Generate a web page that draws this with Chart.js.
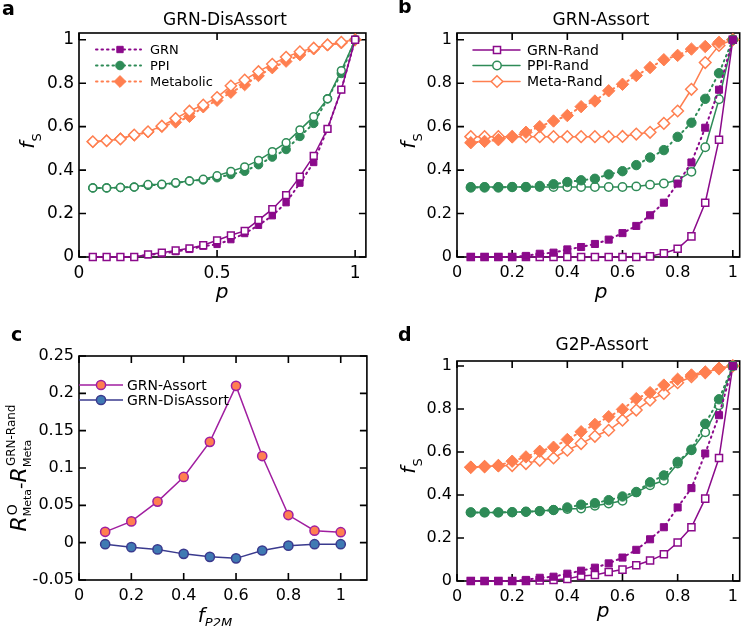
<!DOCTYPE html>
<html><head><meta charset="utf-8">
<script src="https://cdn.jsdelivr.net/npm/chart.js@4/dist/chart.umd.min.js"></script>
<style>
html,body{margin:0;padding:0;background:#fff;}
#wrap{position:relative;width:747px;height:626px;overflow:hidden;background:#fff;}
canvas{position:absolute;}
</style></head><body>
<div id="wrap">
<canvas id="ca" width="373" height="313" style="left:0;top:0"></canvas>
<canvas id="cb" width="374" height="313" style="left:373px;top:0"></canvas>
<canvas id="cc" width="373" height="313" style="left:0;top:313px"></canvas>
<canvas id="cd" width="374" height="313" style="left:373px;top:313px"></canvas>
</div>
<script>
// ---------- data ----------
const pVals = [0.05,0.1,0.15,0.2,0.25,0.3,0.35,0.4,0.45,0.5,0.55,0.6,0.65,0.7,0.75,0.8,0.85,0.9,0.95,1.0];
const fP2M  = [0.1,0.2,0.3,0.4,0.5,0.6,0.7,0.8,0.9,1.0];

const xTicksA = [0,0.5,1];
const xTicksP = [0,0.2,0.4,0.6,0.8,1];
const yTicksFS = [0,0.2,0.4,0.6,0.8,1];
const yTicksC = [-0.05,0,0.05,0.1,0.15,0.2,0.25];

// panel a: GRN-DisAssort
const aGRN      = [0,0,0,0,0.01,0.015,0.025,0.035,0.05,0.058,0.08,0.108,0.146,0.19,0.25,0.34,0.435,0.59,0.77,1];
const aGRNRand  = [0,0,0,0,0.012,0.02,0.03,0.04,0.054,0.077,0.1,0.12,0.17,0.22,0.285,0.37,0.465,0.59,0.77,1];
const aPPI      = [0.318,0.318,0.32,0.322,0.33,0.333,0.34,0.35,0.355,0.365,0.38,0.395,0.425,0.46,0.495,0.555,0.615,0.728,0.845,1];
const aPPIRand  = [0.318,0.318,0.32,0.322,0.334,0.335,0.342,0.35,0.358,0.374,0.394,0.415,0.445,0.485,0.526,0.585,0.646,0.728,0.858,1];
const aMeta     = [0.53,0.535,0.545,0.56,0.575,0.6,0.62,0.646,0.69,0.72,0.757,0.792,0.834,0.87,0.9,0.93,0.957,0.975,0.985,1];
const aMetaRand = [0.531,0.535,0.543,0.562,0.577,0.603,0.638,0.672,0.7,0.735,0.788,0.815,0.854,0.888,0.92,0.945,0.962,0.977,0.989,1];

// panel b: GRN-Assort
const bGRN      = [0,0,0,0,0.005,0.015,0.02,0.035,0.046,0.06,0.08,0.11,0.143,0.192,0.25,0.338,0.435,0.595,0.77,1];
const bGRNRand  = [0,0,0,0,0,0,0,0,0,0,0,0,0,0.003,0.017,0.038,0.095,0.25,0.54,1];
const bPPI      = [0.32,0.32,0.32,0.322,0.322,0.327,0.335,0.345,0.353,0.36,0.38,0.395,0.423,0.458,0.492,0.553,0.618,0.728,0.846,1];
const bPPIRand  = [0.322,0.322,0.322,0.322,0.322,0.322,0.322,0.322,0.322,0.322,0.322,0.322,0.325,0.333,0.338,0.354,0.392,0.505,0.726,1];
const bMeta     = [0.526,0.532,0.54,0.553,0.574,0.6,0.626,0.651,0.692,0.718,0.765,0.795,0.835,0.872,0.908,0.928,0.957,0.969,0.988,1];
const bMetaRand = [0.554,0.554,0.554,0.554,0.554,0.554,0.554,0.554,0.554,0.554,0.554,0.555,0.566,0.574,0.615,0.672,0.772,0.895,0.974,1];

// panel c
const cAssort    = [0.0145,0.0285,0.055,0.088,0.135,0.21,0.116,0.037,0.016,0.014];
const cDisAssort = [-0.002,-0.006,-0.009,-0.015,-0.019,-0.021,-0.0105,-0.004,-0.002,-0.002];

// panel d: G2P-Assort
const dGRN      = [0,0,0,0,0.005,0.015,0.02,0.034,0.048,0.062,0.082,0.109,0.145,0.194,0.25,0.342,0.432,0.593,0.771,1];
const dGRNRand  = [0,0,0,0,0,0.003,0.005,0.01,0.023,0.028,0.042,0.053,0.073,0.095,0.124,0.179,0.25,0.383,0.572,1];
const dPPI      = [0.319,0.319,0.319,0.32,0.322,0.325,0.33,0.342,0.355,0.362,0.376,0.393,0.414,0.459,0.491,0.554,0.611,0.731,0.845,1];
const dPPIRand  = [0.319,0.319,0.319,0.32,0.322,0.325,0.33,0.335,0.337,0.35,0.36,0.373,0.412,0.445,0.467,0.546,0.608,0.692,0.817,1];
const dMeta     = [0.529,0.532,0.536,0.557,0.577,0.603,0.622,0.658,0.694,0.728,0.764,0.798,0.848,0.876,0.911,0.938,0.958,0.972,0.989,1];
const dMetaRand = [0.529,0.532,0.536,0.537,0.546,0.561,0.572,0.608,0.639,0.673,0.701,0.748,0.795,0.841,0.872,0.922,0.95,0.969,0.988,1];

// ---------- style ----------
const FONT = "'DejaVu Sans', sans-serif";
const PURPLE = '#8B0A8B', GREEN = '#2E8B57', ORANGE = '#FF7F50';
const C_ASS_LINE = '#A01EA0', C_ASS_FILL = '#FF7F50';
const C_DIS_LINE = '#3A3A8E', C_DIS_FILL = '#3F7AB3';

function pts(xs, ys){ return xs.map((x,i)=>({x:x, y:ys[i]})); }
function fmt(v){ return String(Math.round(v*1000)/1000); }

function ser(label, ys, color, style, open, r, order){
  return {
    label: label, data: pts(pVals, ys), order: order, clip: false,
    borderColor: color, backgroundColor: color,
    borderWidth: open ? 1.5 : 2,
    borderDash: open ? [] : [1.5, 4],
    borderCapStyle: 'round',
    pointStyle: style, pointRadius: r, pointHoverRadius: r,
    pointBackgroundColor: open ? '#fff' : color,
    pointBorderColor: color, pointBorderWidth: open ? 1.5 : 1,
    tension: 0
  };
}

function scales(xmin,xmax,xt,ymin,ymax,yt,L,B,H,fs){
  const f = {family: FONT, size: fs};
  return {
    x: {type:'linear', min:xmin, max:xmax,
        afterBuildTicks: s => { s.ticks = xt.map(v=>({value:v})); },
        afterFit: s => { s.height = H - B; },
        grid:{display:false, drawTicks:false}, border:{display:false},
        ticks:{font:f, color:'#000', padding:6, maxRotation:0, autoSkip:false, callback: v => fmt(v)}},
    y: {type:'linear', min:ymin, max:ymax,
        afterBuildTicks: s => { s.ticks = yt.map(v=>({value:v})); },
        afterFit: s => { s.width = L; },
        grid:{display:false, drawTicks:false}, border:{display:false},
        ticks:{font:f, color:'#000', padding:5, autoSkip:false, callback: v => fmt(v)}}
  };
}

// ---------- decorations ----------
function runW(ctx, r){ ctx.font = r.f; return ctx.measureText(r.t).width; }
function drawRich(ctx, items, cx, by){
  const widths = items.map(it => it.stack ? Math.max(...it.stack.map(s => runW(ctx,s) + (s.dx||0))) : runW(ctx,it));
  const total = widths.reduce((a,b)=>a+b,0);
  let x = cx - total/2;
  ctx.textAlign = 'left'; ctx.textBaseline = 'alphabetic';
  items.forEach((it,i) => {
    (it.stack || [it]).forEach(p => { ctx.font = p.f; ctx.fillText(p.t, x + (p.dx||0), by + (p.dy||0)); });
    x += widths[i];
  });
}
function marker(ctx, style, x, y, r, fill, stroke, bw){
  ctx.save();
  ctx.fillStyle = fill; ctx.strokeStyle = stroke; ctx.lineWidth = bw;
  ctx.beginPath();
  if (style === 'circle') ctx.arc(x, y, r, 0, Math.PI*2);
  else if (style === 'rect') { const s = r*Math.SQRT1_2; ctx.rect(x-s, y-s, 2*s, 2*s); }
  else { ctx.moveTo(x-r,y); ctx.lineTo(x,y-r); ctx.lineTo(x+r,y); ctx.lineTo(x,y+r); ctx.closePath(); }
  ctx.fill(); if (bw > 0) ctx.stroke();
  ctx.restore();
}

const IT = "italic 20px " + FONT;
const META = {
  ca: { letter:{t:'a', x:2, y:15}, title:{t:'GRN-DisAssort', x:225, y:25, f:"17px "+FONT},
        xl:{items:[{t:'p', f:IT}], x:222, y:298},
        yl:{items:[{t:'f', f:IT},{t:'S', f:"13px "+FONT, dy:7}], x:34, y:141},
        leg:{idx:[3,4,5], x0:96, x1:141, mx:120, tx:150, ys:[49.5,65.5,81.5], f:"13px "+FONT} },
  cb: { letter:{t:'b', x:25, y:13}, title:{t:'GRN-Assort', x:228, y:25, f:"17px "+FONT},
        xl:{items:[{t:'p', f:IT}], x:228, y:298},
        yl:{items:[{t:'f', f:IT},{t:'S', f:"13px "+FONT, dy:7}], x:42, y:141},
        leg:{idx:[3,4,5], x0:100, x1:147, mx:124, tx:154, ys:[50,65.5,81.5], f:"14px "+FONT} },
  cc: { letter:{t:'c', x:11, y:28},
        xl:{items:[{t:'f', f:IT},{t:'P2M', f:"italic 13px "+FONT, dy:5}], x:215, y:309},
        yl:{items:[{t:'R', f:"italic 22px "+FONT},
                   {stack:[{t:'O', f:"14px "+FONT, dy:-9, dx:1},{t:'Meta', f:"11px "+FONT, dy:5}]},
                   {t:'-', f:"18px "+FONT},
                   {t:'R', f:"italic 22px "+FONT},
                   {stack:[{t:'GRN-Rand', f:"12px "+FONT, dy:-11, dx:1},{t:'Meta', f:"11px "+FONT, dy:5}]}],
            x:26, y:155},
        leg:{idx:[0,1], x0:79, x1:123, mx:101, tx:127, ys:[72,87], f:"14px "+FONT} },
  cd: { letter:{t:'d', x:25, y:28}, title:{t:'G2P-Assort', x:229, y:37, f:"17px "+FONT},
        xl:{items:[{t:'p', f:IT}], x:230, y:304},
        yl:{items:[{t:'f', f:IT},{t:'S', f:"13px "+FONT, dy:7}], x:42, y:153} }
};

const frame = {
  id: 'frame',
  beforeDatasetsDraw(chart){
    const {ctx, chartArea:a, scales:{x, y}} = chart;
    ctx.save();
    ctx.strokeStyle = '#000'; ctx.lineWidth = 1.6;
    ctx.strokeRect(a.left, a.top, a.right - a.left, a.bottom - a.top);
    const tl = 7;
    ctx.beginPath();
    x.ticks.forEach(t => { const px = x.getPixelForValue(t.value);
      ctx.moveTo(px, a.bottom); ctx.lineTo(px, a.bottom - tl);
      ctx.moveTo(px, a.top); ctx.lineTo(px, a.top + tl); });
    y.ticks.forEach(t => { const py = y.getPixelForValue(t.value);
      ctx.moveTo(a.left, py); ctx.lineTo(a.left + tl, py);
      ctx.moveTo(a.right, py); ctx.lineTo(a.right - tl, py); });
    ctx.stroke();
    ctx.restore();
  },
  afterDraw(chart){
    const m = META[chart.canvas.id]; if (!m) return;
    const ctx = chart.ctx;
    ctx.save();
    ctx.fillStyle = '#000';
    ctx.textBaseline = 'alphabetic';
    ctx.font = "bold 19px " + FONT; ctx.textAlign = 'left';
    ctx.fillText(m.letter.t, m.letter.x, m.letter.y);
    if (m.title) { ctx.font = m.title.f; ctx.textAlign = 'center'; ctx.fillText(m.title.t, m.title.x, m.title.y); }
    drawRich(ctx, m.xl.items, m.xl.x, m.xl.y);
    ctx.save(); ctx.translate(m.yl.x, m.yl.y); ctx.rotate(-Math.PI/2);
    drawRich(ctx, m.yl.items, 0, 0); ctx.restore();
    if (m.leg) {
      const L = m.leg;
      L.idx.forEach((di, k) => {
        const ds = chart.data.datasets[di];
        const yy = L.ys[k];
        ctx.save();
        ctx.strokeStyle = ds.borderColor; ctx.lineWidth = ds.borderWidth;
        ctx.setLineDash(ds.borderDash || []); ctx.lineCap = ds.borderCapStyle || 'butt';
        ctx.beginPath(); ctx.moveTo(L.x0, yy); ctx.lineTo(L.x1, yy); ctx.stroke();
        ctx.restore();
        marker(ctx, ds.pointStyle, L.mx, yy, ds.pointRadius, ds.pointBackgroundColor, ds.pointBorderColor, ds.pointBorderWidth);
        ctx.fillStyle = '#000'; ctx.font = L.f; ctx.textAlign = 'left'; ctx.textBaseline = 'middle';
        ctx.fillText(ds.label, L.tx, yy + 1);
      });
    }
    ctx.restore();
  }
};

function make(id, W, H, L, R, T, B, datasets, sc){
  return new Chart(document.getElementById(id), {
    type: 'line',
    data: { datasets: datasets },
    options: {
      responsive: false, animation: false, devicePixelRatio: 1,
      layout: { padding: { top: T, right: W - R, left: 0, bottom: 0 } },
      plugins: { legend:{display:false}, tooltip:{enabled:false}, title:{display:false} },
      scales: sc
    },
    plugins: [frame]
  });
}

// panel a (open on top)
make('ca', 373, 313, 79, 371, 33, 257, [
  ser('GRN-Rand', aGRNRand, PURPLE, 'rect', true, 4.8, 0),
  ser('PPI-Rand', aPPIRand, GREEN, 'circle', true, 3.9, 1),
  ser('Meta-Rand', aMetaRand, ORANGE, 'rectRot', true, 5.6, 2),
  ser('GRN', aGRN, PURPLE, 'rect', false, 4.5, 3),
  ser('PPI', aPPI, GREEN, 'circle', false, 4.3, 4),
  ser('Metabolic', aMeta, ORANGE, 'rectRot', false, 5.9, 5)
], scales(0, 1.039, xTicksA, 0, 1.031, yTicksFS, 79, 257, 313, 17));

// panel b (filled on top)
make('cb', 374, 313, 84, 373, 33, 257, [
  ser('GRN', bGRN, PURPLE, 'rect', false, 5, 0),
  ser('PPI', bPPI, GREEN, 'circle', false, 4.7, 1),
  ser('Metabolic', bMeta, ORANGE, 'rectRot', false, 6.2, 2),
  ser('GRN-Rand', bGRNRand, PURPLE, 'rect', true, 5, 3),
  ser('PPI-Rand', bPPIRand, GREEN, 'circle', true, 4.2, 4),
  ser('Meta-Rand', bMetaRand, ORANGE, 'rectRot', true, 5.8, 5)
], scales(0, 1.025, xTicksP, 0, 1.031, yTicksFS, 84, 257, 313, 16));

// panel c
make('cc', 373, 313, 79, 370, 43, 267, [
  { label:'GRN-Assort', data: pts(fP2M, cAssort), clip:false, borderColor:C_ASS_LINE, borderWidth:1.5,
    pointStyle:'circle', pointRadius:4.6, pointBackgroundColor:C_ASS_FILL, pointBorderColor:C_ASS_LINE, pointBorderWidth:1.5, tension:0 },
  { label:'GRN-DisAssort', data: pts(fP2M, cDisAssort), clip:false, borderColor:C_DIS_LINE, borderWidth:1.5,
    pointStyle:'circle', pointRadius:4.6, pointBackgroundColor:C_DIS_FILL, pointBorderColor:C_DIS_LINE, pointBorderWidth:1.5, tension:0 }
], scales(0, 1.1, xTicksP, -0.05, 0.25, yTicksC, 79, 267, 313, 16));

// panel d (filled on top)
make('cd', 374, 313, 84, 373, 48, 268, [
  ser('GRN', dGRN, PURPLE, 'rect', false, 5, 0),
  ser('PPI', dPPI, GREEN, 'circle', false, 4.7, 1),
  ser('Metabolic', dMeta, ORANGE, 'rectRot', false, 6.2, 2),
  ser('GRN-Rand', dGRNRand, PURPLE, 'rect', true, 5, 3),
  ser('PPI-Rand', dPPIRand, GREEN, 'circle', true, 4.2, 4),
  ser('Meta-Rand', dMetaRand, ORANGE, 'rectRot', true, 5.8, 5)
], scales(0, 1.025, xTicksP, 0, 1.023, yTicksFS, 84, 268, 313, 16));
</script>
</body></html>
